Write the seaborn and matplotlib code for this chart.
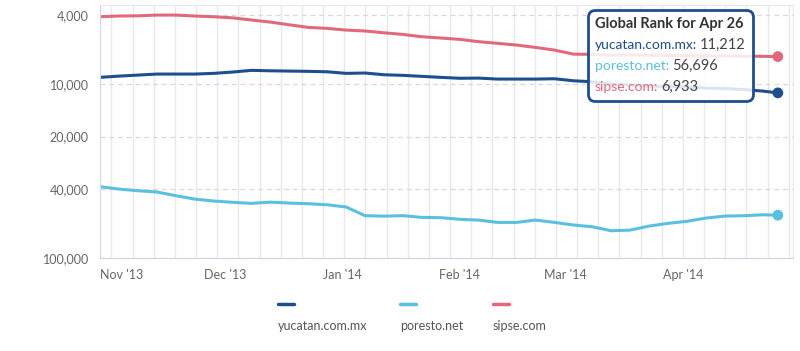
import numpy as np
import pandas as pd
import matplotlib
matplotlib.use('Agg')
import matplotlib.pyplot as plt
import matplotlib.dates as mdates
from matplotlib.lines import Line2D
from matplotlib.ticker import FixedLocator, FuncFormatter, NullLocator
from matplotlib.transforms import ScaledTranslation
from matplotlib.offsetbox import TextArea, HPacker, VPacker, AnchoredOffsetbox
import seaborn as sns

# sitios y colores
sites = ['yucatan.com.mx', 'poresto.net', 'sipse.com']
colors = ['#1f4e8c', '#5bbfe0', '#e06a7b']

# fechas: cada 5 dias desde el 29 oct + el ultimo dia (26 abr)
dates = list(pd.date_range('2013-10-29', periods=36, freq='5D')) + [pd.Timestamp('2014-04-26')]

# ranking global
yucatan = [9130, 8980, 8860, 8740, 8740, 8740, 8660, 8510, 8320, 8370,
           8400, 8430, 8480, 8660, 8620, 8820, 8890, 9010, 9130, 9240,
           9220, 9340, 9340, 9340, 9300, 9550, 9680, 9980, 10110, 10250,
           10320, 10380, 10520, 10590, 10730, 10950, 11212]
poresto = [38900, 40100, 41000, 41700, 43800, 45800, 47000, 47800, 48500, 47700,
           48300, 48700, 49400, 50900, 57100, 57400, 57100, 58400, 58600, 59900,
           60500, 62400, 62400, 60500, 62400, 64600, 66100, 69700, 69100, 65500,
           63200, 61500, 58900, 57400, 57100, 56400, 56696]
sipse = [4090, 4050, 4040, 4000, 4000, 4050, 4090, 4150, 4270, 4390,
         4550, 4710, 4770, 4880, 4940, 5060, 5170, 5330, 5420, 5520,
         5690, 5820, 5950, 6140, 6360, 6710, 6730, 6800, 6780, 6800,
         6830, 6850, 6870, 6880, 6900, 6910, 6933]

yticks = [4000, 10000, 20000, 40000, 100000]

df = pd.DataFrame({'date': dates * 3,
                   'rank': yucatan + poresto + sipse,
                   'site': np.repeat(sites, len(dates))})
pal = dict(zip(sites, colors))

sns.set_style('white')
plt.rcParams['font.family'] = ['Lato', 'DejaVu Sans']

fig = plt.figure(figsize=(8, 3.51), dpi=100)
ax = fig.add_axes([100 / 800, 1 - 258 / 351, 693 / 800, 253 / 351])

sns.lineplot(data=df, x='date', y='rank', hue='site', palette=pal,
             lw=2.2, legend=False, ax=ax)
last = df[df['date'] == dates[-1]]
sns.scatterplot(data=last, x='date', y='rank', hue='site', palette=pal,
                s=60, edgecolor='none', legend=False, ax=ax, zorder=5)

# eje y: rango invertido en escala log
ax.set_yscale('log')
ax.set_ylim(100000, 3500)
ax.yaxis.set_major_locator(FixedLocator(yticks))
ax.yaxis.set_minor_locator(NullLocator())
ax.yaxis.set_major_formatter(FuncFormatter(lambda v, p: f'{v:,.0f}'))
ax.yaxis.grid(True, ls=(0, (4, 3)), color='#d9d9d9', lw=0.9)

# eje x: meses + rejilla vertical
ax.set_xlim(pd.Timestamp('2013-10-29'), pd.Timestamp('2014-04-30'))
ax.xaxis.set_major_locator(mdates.MonthLocator())
ax.xaxis.set_major_formatter(mdates.DateFormatter("%b '%y"))
start = mdates.date2num(pd.Timestamp('2013-11-01'))
ax.xaxis.set_minor_locator(FixedLocator(np.arange(start, start + 181, 5.59)))
ax.xaxis.remove_overlapping_locs = False
ax.xaxis.grid(True, which='minor', color='#e8e8e8', lw=1)
ax.xaxis.grid(False, which='major')

ax.tick_params(axis='x', which='major', length=5, color='#ccd6eb', width=1,
               labelsize=9, labelcolor='#666666', pad=3)
ax.tick_params(axis='x', which='minor', length=0)
ax.tick_params(axis='y', length=0, labelsize=9, labelcolor='#666666', pad=8)
ax.set_xlabel('')
ax.set_ylabel('')
for s in ['left', 'bottom']:
    ax.spines[s].set_color('#ccd6eb')
for s in ['top', 'right']:
    ax.spines[s].set_color('#e8e8e8')

# leyenda abajo: linea corta sobre cada etiqueta
leg_x = [278, 400, 493]
for name, c, lx in zip(sites, colors, leg_x):
    fig.add_artist(Line2D([lx / 800, (lx + 16) / 800], [1 - 304 / 351] * 2,
                          color=c, lw=2.5, transform=fig.transFigure))
    fig.text(lx / 800, 1 - 326 / 351, name, ha='left', va='center',
             fontsize=9, color='#555555')

# tooltip
rows = [TextArea('Global Rank for Apr 26',
                 textprops=dict(fontweight='bold', size=10.5, color='#333333'))]
for name, c, vals in zip(sites, colors, [yucatan, poresto, sipse]):
    rows.append(HPacker(children=[
        TextArea(name + ':', textprops=dict(color=c, size=10)),
        TextArea(f'{vals[-1]:,}', textprops=dict(color='#444444', size=10.5))],
        pad=0, sep=2))
box = VPacker(children=rows, align='left', pad=0, sep=5)
tip = AnchoredOffsetbox(loc='upper left', child=box, pad=0.5, borderpad=0,
                        frameon=True, bbox_to_anchor=(588 / 800, 1 - 10 / 351),
                        bbox_transform=fig.transFigure)
tip.patch.set_boxstyle('round,pad=0,rounding_size=0.5')
tip.patch.set_edgecolor('#1f4e8c')
tip.patch.set_linewidth(2)
tip.patch.set_facecolor((1, 1, 1, 0.85))
fig.add_artist(tip)

# primera etiqueta (Nov '13) desplazada a la derecha
fig.canvas.draw()
lab = ax.get_xticklabels()[0]
lab.set_transform(lab.get_transform() + ScaledTranslation(0.1, 0, fig.dpi_scale_trans))

plt.savefig('out.png', dpi=100)
